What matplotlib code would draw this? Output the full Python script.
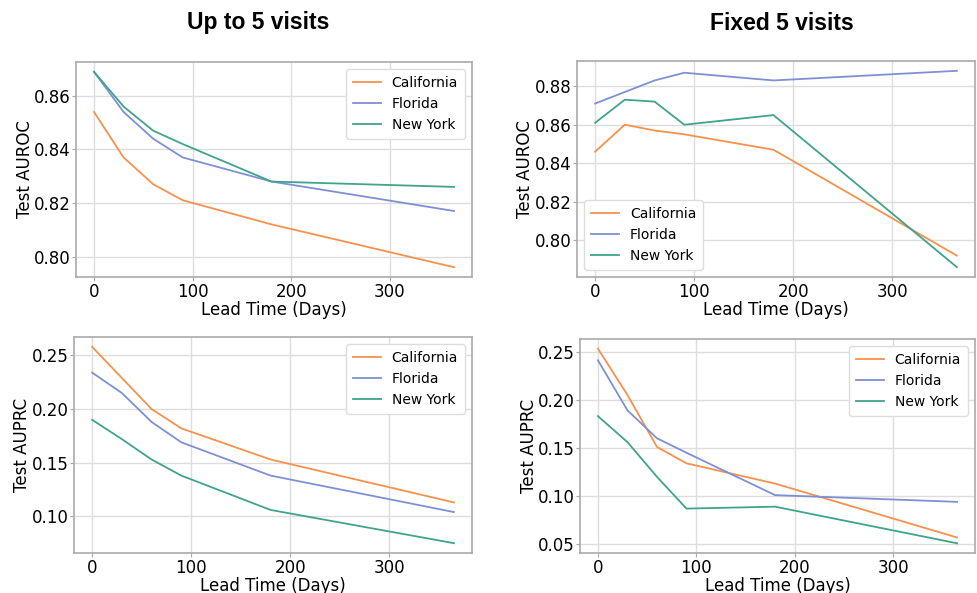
import matplotlib
matplotlib.use("Agg")
import matplotlib.pyplot as plt
from matplotlib.ticker import FormatStrFormatter, MultipleLocator

plt.rcParams["font.family"] = ["DejaVu Sans"]

lead_days = [0, 30, 60, 90, 180, 365]
states = ["California", "Florida", "New York"]

# Up to 5 visits
upto_auroc_ca = [0.854, 0.837, 0.827, 0.821, 0.812, 0.796]
upto_auroc_fl = [0.869, 0.854, 0.844, 0.837, 0.828, 0.817]
upto_auroc_ny = [0.869, 0.856, 0.847, 0.842, 0.828, 0.826]
upto_auprc_ca = [0.258, 0.229, 0.200, 0.182, 0.153, 0.113]
upto_auprc_fl = [0.234, 0.215, 0.188, 0.169, 0.138, 0.104]
upto_auprc_ny = [0.190, 0.172, 0.153, 0.138, 0.106, 0.075]

# Fixed 5 visits
fixed_auroc_ca = [0.846, 0.860, 0.857, 0.855, 0.847, 0.792]
fixed_auroc_fl = [0.871, 0.877, 0.883, 0.887, 0.883, 0.888]
fixed_auroc_ny = [0.861, 0.873, 0.872, 0.860, 0.865, 0.786]
fixed_auprc_ca = [0.253, 0.205, 0.151, 0.134, 0.113, 0.057]
fixed_auprc_fl = [0.241, 0.189, 0.160, 0.145, 0.101, 0.094]
fixed_auprc_ny = [0.183, 0.156, 0.120, 0.087, 0.089, 0.051]

col_titles = ["Up to 5 visits", "Fixed 5 visits"]
colors = ["#f7914d", "#7e90d4", "#3fa48b"]

W, H = 977, 593
fig = plt.figure(figsize=(W / 100, H / 100), dpi=100)

def box(l, r, t, b):
    return [l / W, 1 - b / H, (r - l) / W, (b - t) / H]

panels = [
    (box(76, 472, 62, 277), [upto_auroc_ca, upto_auroc_fl, upto_auroc_ny], "Test AUROC", "upper right", 0.02),
    (box(577, 975, 61, 277), [fixed_auroc_ca, fixed_auroc_fl, fixed_auroc_ny], "Test AUROC", "lower left", 0.02),
    (box(74, 472, 337, 553), [upto_auprc_ca, upto_auprc_fl, upto_auprc_ny], "Test AUPRC", "upper right", 0.05),
    (box(580, 975, 339, 553), [fixed_auprc_ca, fixed_auprc_fl, fixed_auprc_ny], "Test AUPRC", "upper right", 0.05),
]

for pos, series, ylabel, loc, step in panels:
    ax = fig.add_axes(pos)
    for name, vals, c in zip(states, series, colors):
        ax.plot(lead_days, vals, color=c, lw=1.3, label=name)
    ax.grid(True, color="#dddddd", lw=1.0)
    ax.set_axisbelow(True)
    for s in ax.spines.values():
        s.set_color("#aaaaaa")
        s.set_linewidth(1.2)
    ax.tick_params(labelsize=12, color="#aaaaaa", length=3, pad=1)
    ax.yaxis.set_major_locator(MultipleLocator(step))
    ax.yaxis.set_major_formatter(FormatStrFormatter("%.2f"))
    ax.set_xticks([0, 100, 200, 300])
    ax.set_xlabel("Lead Time (Days)", fontsize=12)
    ax.xaxis.label.set_va("center")
    ax.xaxis.set_label_coords(0.5, -0.152)
    ax.set_ylabel(ylabel, fontsize=12)
    ax.yaxis.label.set_va("center")
    ax.yaxis.set_label_coords(-0.13, 0.5)
    ax.legend(loc=loc, fontsize=10, framealpha=1, edgecolor="#dddddd",
              handlelength=2.0, borderpad=0.5)

fig.text(258 / W, 1 - 23 / H, col_titles[0], ha="center", va="center",
         fontsize=16.5, fontweight="bold", family=["Liberation Sans", "DejaVu Sans"])
fig.text(782 / W, 1 - 23 / H, col_titles[1], ha="center", va="center",
         fontsize=16.5, fontweight="bold", family=["Liberation Sans", "DejaVu Sans"])

fig.savefig("out.png", dpi=100)
